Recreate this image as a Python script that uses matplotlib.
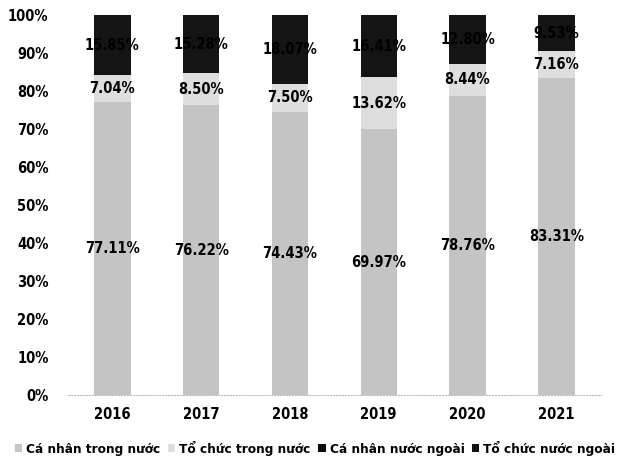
import matplotlib.pyplot as plt
import numpy as np

years = ["2016", "2017", "2018", "2019", "2020", "2021"]
ca_nhan_trong_nuoc = [77.11, 76.22, 74.43, 69.97, 78.76, 83.31]
to_chuc_trong_nuoc = [7.04, 8.50, 7.50, 13.62, 8.44, 7.16]
ca_nhan_nuoc_ngoai = [0.0, 0.0, 0.0, 0.0, 0.0, 0.0]
to_chuc_nuoc_ngoai = [15.85, 15.28, 18.07, 16.41, 12.80, 9.53]
series_names = ["Cá nhân trong nước", "Tổ chức trong nước",
                "Cá nhân nước ngoài", "Tổ chức nước ngoài"]

plt.rcParams['font.family'] = ['DejaVu Sans']
plt.rcParams['font.stretch'] = 'condensed'

fig = plt.figure(figsize=(6.18, 4.68), dpi=100)
ax = fig.add_axes([0.11, 0.156, 0.862, 0.812])

x = np.arange(len(years))
w = 0.41
series = [ca_nhan_trong_nuoc, to_chuc_trong_nuoc, ca_nhan_nuoc_ngoai, to_chuc_nuoc_ngoai]
colors = ["#c4c4c4", "#dedede", "#0a0a0a", "#141414"]
labelled = [True, True, False, True]
fs = 10.5

bottom = np.zeros(len(years))
for vals, name, col, lab in zip(series, series_names, colors, labelled):
    vals = np.array(vals)
    ax.bar(x, vals, w, bottom=bottom, color=col, label=name)
    if lab:
        for xi, b, v in zip(x, bottom, vals):
            ax.text(xi, b + v / 2, f"{v:.2f}%", ha="center", va="center",
                    fontsize=fs, fontweight="bold", color="black")
    bottom += vals

ax.set_xlim(-0.5, len(years) - 0.5)
ax.set_ylim(0, 100)
ax.set_yticks(np.arange(0, 101, 10))
ax.set_yticklabels([f"{v}%" for v in range(0, 101, 10)], fontsize=fs, fontweight="bold")
ax.set_xticks(x)
ax.set_xticklabels(years, fontsize=fs, fontweight="bold")
ax.tick_params(length=0, pad=14)
ax.tick_params(axis="x", pad=9)
for s in ["top", "right", "left"]:
    ax.spines[s].set_visible(False)
ax.spines["bottom"].set_color("#bbbbbb")
ax.spines["bottom"].set_linestyle(":")

fig.legend(loc="lower center", bbox_to_anchor=(0.51, 0.0), ncol=4, frameon=False,
           handlelength=0.55, handleheight=0.55, handletextpad=0.3, columnspacing=0.55,
           prop={"size": 9.7, "weight": "bold", "stretch": "condensed"})

fig.savefig("out.png", dpi=100)
